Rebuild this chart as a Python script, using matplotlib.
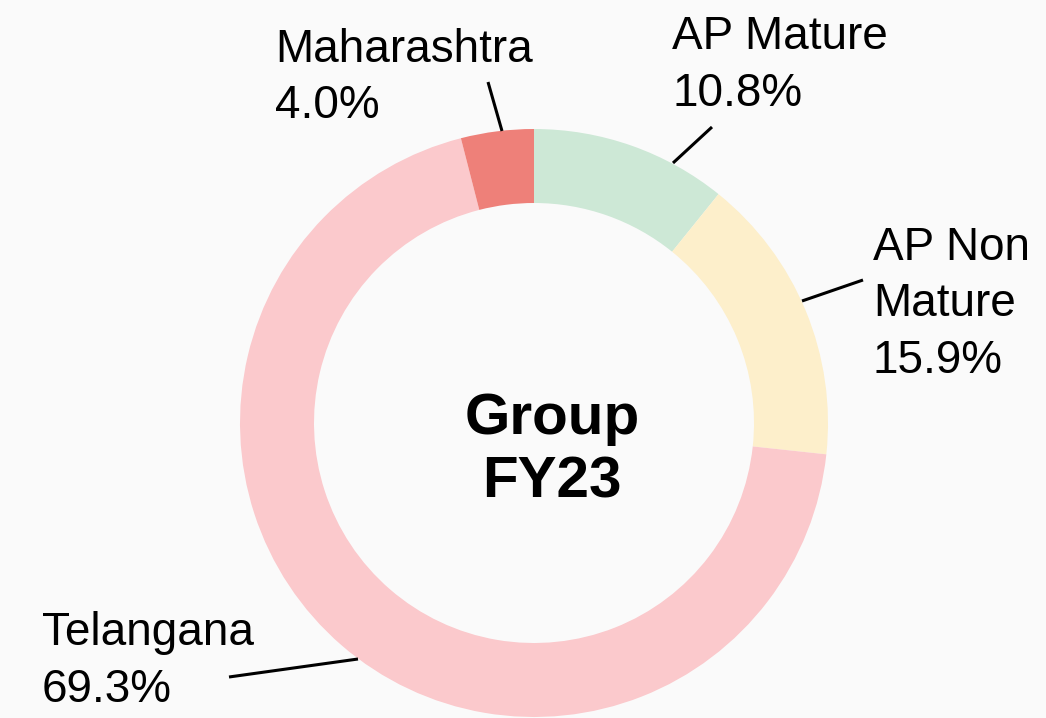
import matplotlib
matplotlib.use("Agg")
import matplotlib.pyplot as plt

# segments, clockwise from 12 o'clock
names = ["AP Mature", "AP Non\nMature", "Telangana", "Maharashtra"]
shares = [10.8, 15.9, 69.3, 4.0]
colors = ["#cde8d6", "#fdefcb", "#fbc9cc", "#ee8079"]
centre_title = "Group\nFY23"

# label layout (pixel coords, y down): text x, first baseline, leader line ends
label_pos = [(672, 49), (873, 260), (42, 645), (275, 62)]
leaders = [((712, 127), (673, 163)),
           ((863, 280), (802, 301)),
           ((229, 677), (358, 659)),
           ((488, 82), (502, 131))]

W, H = 1046, 718
plt.rcParams['font.family'] = ['Liberation Sans', 'DejaVu Sans']

fig = plt.figure(figsize=(W / 100, H / 100), dpi=100, facecolor="#fafafa")
ax = fig.add_axes([0, 0, 1, 1])
ax.set_facecolor("#fafafa")

cx, cy, r = 534, H - 423, 294
ax.pie(shares, colors=colors, startangle=90, counterclock=False,
       center=(cx, cy), radius=r, frame=True,
       wedgeprops=dict(width=74, edgecolor="none", linewidth=0))
ax.set_xlim(0, W)
ax.set_ylim(0, H)
ax.set_aspect("equal")
ax.axis("off")


def fy(y):
    return H - y


for name, val, (tx, ty), (p0, p1) in zip(names, shares, label_pos, leaders):
    lines = name.split("\n") + ["%.1f%%" % val]
    for i, s in enumerate(lines):
        ax.text(tx, fy(ty + i * 56.5), s, fontsize=33, ha="left", va="baseline",
                color="black")
    ax.plot([p0[0], p1[0]], [fy(p0[1]), fy(p1[1])], color="black", lw=2.2,
            solid_capstyle="butt")

for i, s in enumerate(centre_title.split("\n")):
    ax.text(552, fy(434 + i * 64), s, fontsize=42, fontweight="bold",
            ha="center", va="baseline", color="black")

fig.savefig("out.png", dpi=100, facecolor=fig.get_facecolor())
